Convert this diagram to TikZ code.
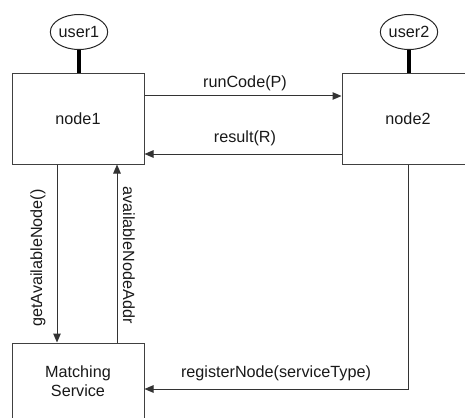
\documentclass[tikz,border=0pt]{standalone}
\usepackage{fontspec}
\setmainfont{Liberation Sans}
\usetikzlibrary{arrows.meta,shapes.geometric}

\tikzset{
  msgfont/.style={font=\fontsize{16.2}{18.5}\selectfont, text=black!90},
  box/.style={draw=black!75, line width=1pt, rectangle, minimum width=132pt, msgfont, align=center},
  actor/.style={draw=black!85, line width=1pt, ellipse, minimum width=56pt, minimum height=35pt, inner sep=0pt, msgfont},
  link/.style={line width=4pt, black},
  msg/.style={draw=black!80, line width=1pt, -{Triangle[length=9pt,width=7.5pt]}},
  lbl/.style={msgfont, inner sep=1pt}
}

\begin{document}
\begin{tikzpicture}[x=1pt,y=-1pt]
  \useasboundingbox (0,0) rectangle (465,417);
  \clip (0,0) rectangle (465,417);

  % components
  \node[box, minimum height=90pt] (node1) at (78,119) {node1};
  \node[box, minimum height=90pt] (node2) at (408,119) {node2};
  \node[box, minimum height=76pt] (match) at (78,381) {Matching\\Service};

  % users attached to their nodes
  \node[actor] (user1) at (79,32) {user1};
  \node[actor] (user2) at (409,32) {user2};
  \draw[link] (user1.south) -- (user1.south |- node1.north);
  \draw[link] (user2.south) -- (user2.south |- node2.north);

  % node1 <-> node2
  \draw[msg] (node1.east |- 0,96) -- (node2.west |- 0,96);
  \node[lbl] (lrun) at (245,83) {runCode(P)};
  \draw[msg] (node2.west |- 0,154) -- (node1.east |- 0,154);
  \node[lbl] (lres) at (245,138) {result(R)};

  % node1 <-> matching service
  \draw[msg] (node1.south -| 57,0) -- (match.north -| 57,0);
  \node[lbl, rotate=90] (lget) at (38,258) {getAvailableNode()};
  \draw[msg] (match.north -| 117,0) -- (node1.south -| 117,0);
  \node[lbl, rotate=-90] (laddr) at (129,255) {availableNodeAddr};

  % node2 registers with matching service
  \coordinate (bend) at (408,389);
  \draw[msg] (node2.south -| bend) -- (bend) -- (match.east |- bend);
  \node[lbl] (lreg) at (276,373) {registerNode(serviceType)};
\end{tikzpicture}
\end{document}
